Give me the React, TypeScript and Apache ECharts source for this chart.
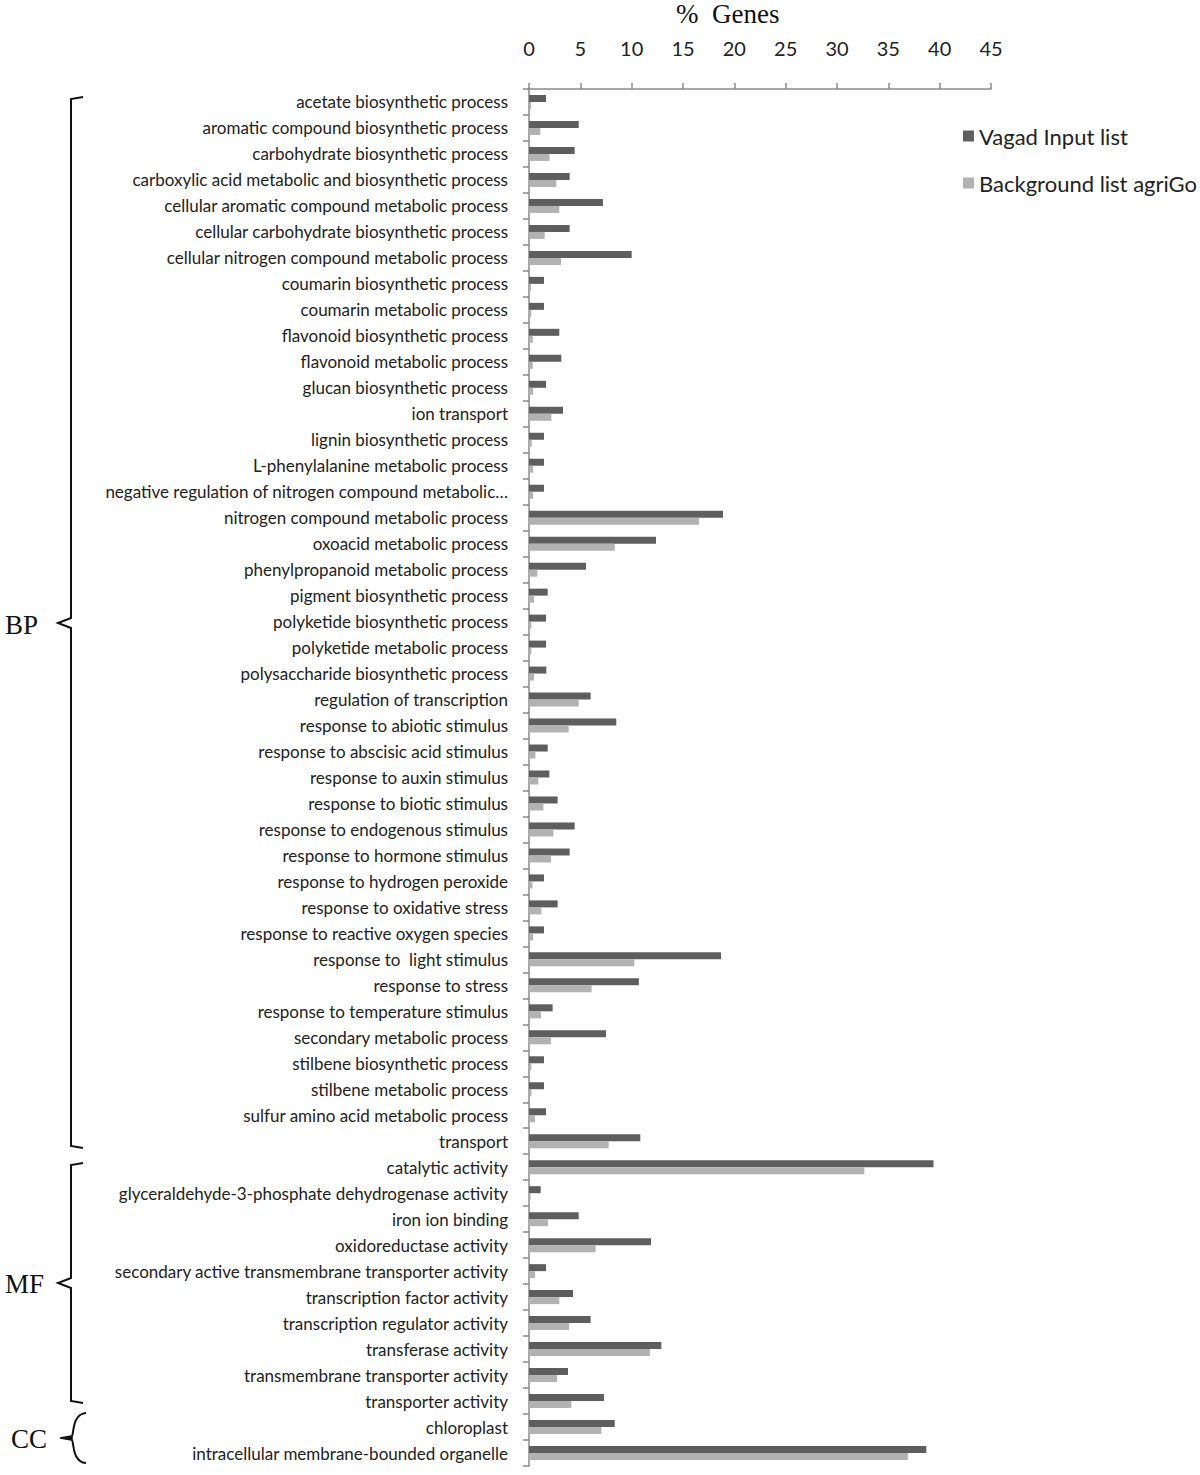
import React, { useEffect, useRef } from "react";
import * as echarts from "echarts";

const categories = [
  "acetate biosynthetic process",
  "aromatic compound biosynthetic process",
  "carbohydrate biosynthetic process",
  "carboxylic acid metabolic and biosynthetic process",
  "cellular aromatic compound metabolic process",
  "cellular carbohydrate biosynthetic process",
  "cellular nitrogen compound metabolic process",
  "coumarin biosynthetic process",
  "coumarin metabolic process",
  "flavonoid biosynthetic process",
  "flavonoid metabolic process",
  "glucan biosynthetic process",
  "ion transport",
  "lignin biosynthetic process",
  "L-phenylalanine metabolic process",
  "negative regulation of nitrogen compound metabolic…",
  "nitrogen compound metabolic process",
  "oxoacid metabolic process",
  "phenylpropanoid metabolic process",
  "pigment biosynthetic process",
  "polyketide biosynthetic process",
  "polyketide metabolic process",
  "polysaccharide biosynthetic process",
  "regulation of transcription",
  "response to abiotic stimulus",
  "response to abscisic acid stimulus",
  "response to auxin stimulus",
  "response to biotic stimulus",
  "response to endogenous stimulus",
  "response to hormone stimulus",
  "response to hydrogen peroxide",
  "response to oxidative stress",
  "response to reactive oxygen species",
  "response to  light stimulus",
  "response to stress",
  "response to temperature stimulus",
  "secondary metabolic process",
  "stilbene biosynthetic process",
  "stilbene metabolic process",
  "sulfur amino acid metabolic process",
  "transport",
  "catalytic activity",
  "glyceraldehyde-3-phosphate dehydrogenase activity",
  "iron ion binding",
  "oxidoreductase activity",
  "secondary active transmembrane transporter activity",
  "transcription factor activity",
  "transcription regulator activity",
  "transferase activity",
  "transmembrane transporter activity",
  "transporter activity",
  "chloroplast",
  "intracellular membrane-bounded organelle",
];

const vagadInput = [
  1.66, 4.84, 4.45, 3.96, 7.2, 3.96, 10.0, 1.46, 1.46, 2.95, 3.15, 1.66,
  3.31, 1.46, 1.46, 1.46, 18.9, 12.37, 5.55, 1.82, 1.66, 1.66, 1.69,
  6.0, 8.5, 1.82, 1.98, 2.79, 4.45, 3.96, 1.46, 2.79, 1.46, 18.7, 10.7,
  2.3, 7.5, 1.46, 1.46, 1.66, 10.84,
  39.4, 1.14, 4.84, 11.88, 1.66, 4.29, 6.0, 12.89, 3.8, 7.3,
  8.35, 38.7,
];

const background = [
  0.2, 1.1, 2.0, 2.66, 2.95, 1.53, 3.12, 0.2, 0.23, 0.36, 0.36, 0.4,
  2.18, 0.26, 0.4, 0.4, 16.56, 8.35, 0.81, 0.5, 0.23, 0.23, 0.49,
  4.84, 3.86, 0.62, 0.91, 1.4, 2.37, 2.14, 0.33, 1.2, 0.4, 10.26, 6.1,
  1.17, 2.14, 0.23, 0.23, 0.58, 7.76,
  32.66, 0.16, 1.85, 6.49, 0.58, 2.95, 3.9, 11.78, 2.73, 4.12,
  7.05, 36.9,
];

const xTicks = { min: 0, max: 45, interval: 5 };
const seriesNames = ["Vagad Input list", "Background list agriGo"];

export default function App() {
  const ref = useRef<HTMLDivElement>(null);
  useEffect(() => {
    if (!ref.current) return;
    const chart = echarts.init(ref.current, null, { renderer: "svg" });
    const labelFont = "Lato, 'Open Sans', sans-serif";
    const braceStyle = { stroke: "#111", lineWidth: 2, fill: "none" };
    chart.setOption({
      animation: false,
      backgroundColor: "#ffffff",
      grid: { left: 529, right: 209, top: 89, bottom: 9, containLabel: false },
      legend: {
        orient: "vertical",
        left: 958,
        top: 120,
        itemWidth: 11,
        itemHeight: 11,
        itemGap: 25,
        icon: "rect",
        textStyle: { fontFamily: labelFont, fontSize: 22, color: "#222" },
        data: seriesNames,
      },
      xAxis: {
        type: "value",
        position: "top",
        min: xTicks.min,
        max: xTicks.max,
        interval: xTicks.interval,
        splitLine: { show: false },
        axisLine: { show: true, lineStyle: { color: "#8a8a8a", width: 1.5 } },
        axisTick: { show: true, length: 6, lineStyle: { color: "#8a8a8a", width: 1.5 } },
        axisLabel: { fontFamily: labelFont, fontSize: 20, color: "#222", margin: 31 },
      },
      yAxis: {
        type: "category",
        inverse: true,
        data: categories,
        axisLine: { show: true, lineStyle: { color: "#8a8a8a", width: 1.5 } },
        axisTick: { show: true, length: 6, lineStyle: { color: "#8a8a8a", width: 1.5 } },
        axisLabel: {
          fontFamily: labelFont,
          fontSize: 17,
          color: "#222",
          margin: 21,
          interval: 0,
        },
      },
      series: [
        {
          name: seriesNames[0],
          type: "bar",
          data: vagadInput,
          barWidth: 7,
          barGap: "0%",
          itemStyle: { color: "#5e5e5e" },
        },
        {
          name: seriesNames[1],
          type: "bar",
          data: background,
          barWidth: 7,
          barGap: "0%",
          itemStyle: { color: "#b2b2b2" },
        },
      ],
      graphic: [
        {
          type: "text",
          left: 676,
          top: 0,
          style: {
            text: "%  Genes",
            font: "27px 'Liberation Serif', 'Times New Roman', serif",
            fill: "#111",
          },
        },
        {
          type: "polyline",
          shape: { points: [[83, 97], [71, 99], [71, 618], [58, 623], [71, 628], [71, 1146], [83, 1148]] },
          style: braceStyle,
        },
        {
          type: "polyline",
          shape: { points: [[83, 1163], [71, 1165], [71, 1278], [58, 1283], [71, 1288], [71, 1401], [83, 1403]] },
          style: braceStyle,
        },
        {
          type: "bezierCurve",
          shape: { x1: 86, y1: 1413, x2: 72, y2: 1436, cpx1: 72, cpy1: 1414, cpx2: 74, cpy2: 1434 },
          style: braceStyle,
        },
        {
          type: "bezierCurve",
          shape: { x1: 72, y1: 1440, x2: 86, y2: 1463, cpx1: 74, cpy1: 1442, cpx2: 72, cpy2: 1462 },
          style: braceStyle,
        },
        {
          type: "polyline",
          shape: { points: [[60, 1438], [72, 1436], [72, 1440], [60, 1438]] },
          style: { stroke: "#111", lineWidth: 1.5, fill: "#111" },
        },
        {
          type: "text",
          left: 5,
          top: 611,
          style: { text: "BP", font: "27px 'Liberation Serif', 'Times New Roman', serif", fill: "#111" },
        },
        {
          type: "text",
          left: 5,
          top: 1270,
          style: { text: "MF", font: "27px 'Liberation Serif', 'Times New Roman', serif", fill: "#111" },
        },
        {
          type: "text",
          left: 11,
          top: 1425,
          style: { text: "CC", font: "27px 'Liberation Serif', 'Times New Roman', serif", fill: "#111" },
        },
      ],
    });
    return () => chart.dispose();
  }, []);
  return (
    <div
      ref={ref}
      style={{ position: "absolute", left: 0, top: 0, width: 1200, height: 1475 }}
    />
  );
}
